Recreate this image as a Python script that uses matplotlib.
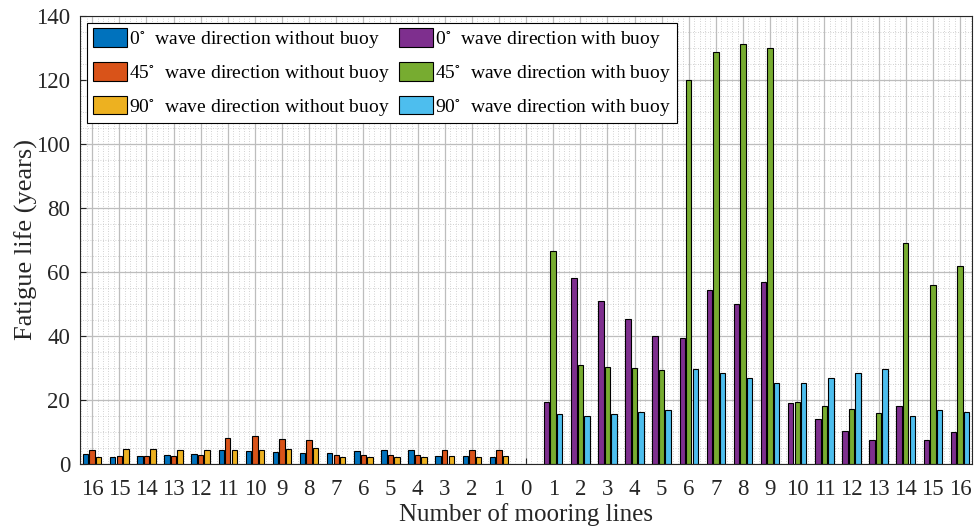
import numpy as np
import matplotlib
matplotlib.use("Agg")
import matplotlib.pyplot as plt
from matplotlib.ticker import MultipleLocator

plt.rcParams['font.family'] = ['Liberation Serif', 'DejaVu Serif']
plt.rcParams['mathtext.fontset'] = 'stix'

tick_labels = [str(n) for n in range(16, 0, -1)] + ['0'] + [str(n) for n in range(1, 17)]

# mooring lines 16 -> 1, without buoy
no_buoy_0 = [3.1, 2.1, 2.4, 2.9, 3.1, 4.5, 4.2, 3.8, 3.4, 3.4, 4.0, 4.5, 4.5, 2.6, 2.4, 2.1]
no_buoy_45 = [4.5, 2.6, 2.6, 2.6, 2.8, 8.2, 8.8, 7.9, 7.4, 2.8, 2.8, 2.8, 2.8, 4.5, 4.5, 4.3]
no_buoy_90 = [2.1, 4.7, 4.7, 4.5, 4.5, 4.5, 4.5, 4.7, 5.0, 2.3, 2.1, 2.1, 2.1, 2.4, 2.1, 2.4]

# mooring lines 1 -> 16, with buoy
buoy_0 = [19.4, 58.0, 51.0, 45.2, 40.0, 39.5, 54.5, 50.0, 57.0, 19.0, 14.0, 10.4, 7.6, 18.3, 7.4, 9.9]
buoy_45 = [66.5, 30.9, 30.4, 29.9, 29.4, 120.0, 128.8, 131.1, 129.8, 19.5, 18.0, 17.2, 16.1, 68.9, 55.8, 61.8]
buoy_90 = [15.5, 15.0, 15.5, 16.4, 16.9, 29.6, 28.3, 26.8, 25.4, 25.4, 26.8, 28.3, 29.6, 15.0, 16.9, 16.4]

labels_left = [r'0$^{\circ}$  wave direction without buoy',
               r'45$^{\circ}$  wave direction without buoy',
               r'90$^{\circ}$  wave direction without buoy']
labels_right = [r'0$^{\circ}$  wave direction with buoy',
                r'45$^{\circ}$  wave direction with buoy',
                r'90$^{\circ}$  wave direction with buoy']

colors_left = ['#0072BD', '#D95319', '#EDB120']
colors_right = ['#7E2F8E', '#77AC30', '#4DBEEE']

fig = plt.figure(figsize=(9.8, 5.28), dpi=100)
ax = fig.add_axes([0.0816, 0.121, 0.9104, 0.849])

x_left = np.arange(16)
x_right = np.arange(17, 33)
w = 0.2
off = 0.24

handles = []
for i, (vals, c, lab) in enumerate(zip([no_buoy_0, no_buoy_45, no_buoy_90], colors_left, labels_left)):
    b = ax.bar(x_left + (i - 1) * off, vals, w, color=c, edgecolor='black', linewidth=0.8, label=lab)
    handles.append(b)
for i, (vals, c, lab) in enumerate(zip([buoy_0, buoy_45, buoy_90], colors_right, labels_right)):
    b = ax.bar(x_right + (i - 1) * off, vals, w, color=c, edgecolor='black', linewidth=0.8, label=lab)
    handles.append(b)

ax.set_xlim(-0.45, 32.45)
ax.set_ylim(0, 140)
ax.set_xticks(np.arange(33))
ax.set_xticklabels(tick_labels)
ax.set_yticks(np.arange(0, 141, 20))
ax.xaxis.set_minor_locator(MultipleLocator(0.2))
ax.yaxis.set_minor_locator(MultipleLocator(5))

ax.set_axisbelow(True)
ax.grid(which='major', color='#bdbdbd', linestyle='-', linewidth=0.9)
ax.grid(which='minor', color='#c4c4c4', linestyle=(0, (1, 2)), linewidth=0.6)

ax.tick_params(which='major', direction='in', length=4, labelsize=16.5, colors='#262626')
ax.tick_params(axis='x', which='major', pad=11)
ax.tick_params(axis='y', which='major', pad=7)
ax.tick_params(which='minor', length=0)
for s in ax.spines.values():
    s.set_color('#262626')
    s.set_linewidth(0.8)

ax.set_xlabel('Number of mooring lines', fontsize=18, color='#262626', labelpad=2)
ax.set_ylabel('Fatigue life (years)', fontsize=19, color='#262626', labelpad=-1)

leg = ax.legend(handles=handles, loc='upper left', ncol=2, fontsize=14,
                frameon=True, fancybox=False, edgecolor='black', framealpha=1,
                handlelength=1.75, handleheight=1.1, handletextpad=0.1,
                labelspacing=0.6, columnspacing=0.5, borderpad=0.3, borderaxespad=0.35)
leg.get_frame().set_linewidth(0.8)

fig.savefig('out.png', dpi=100)
